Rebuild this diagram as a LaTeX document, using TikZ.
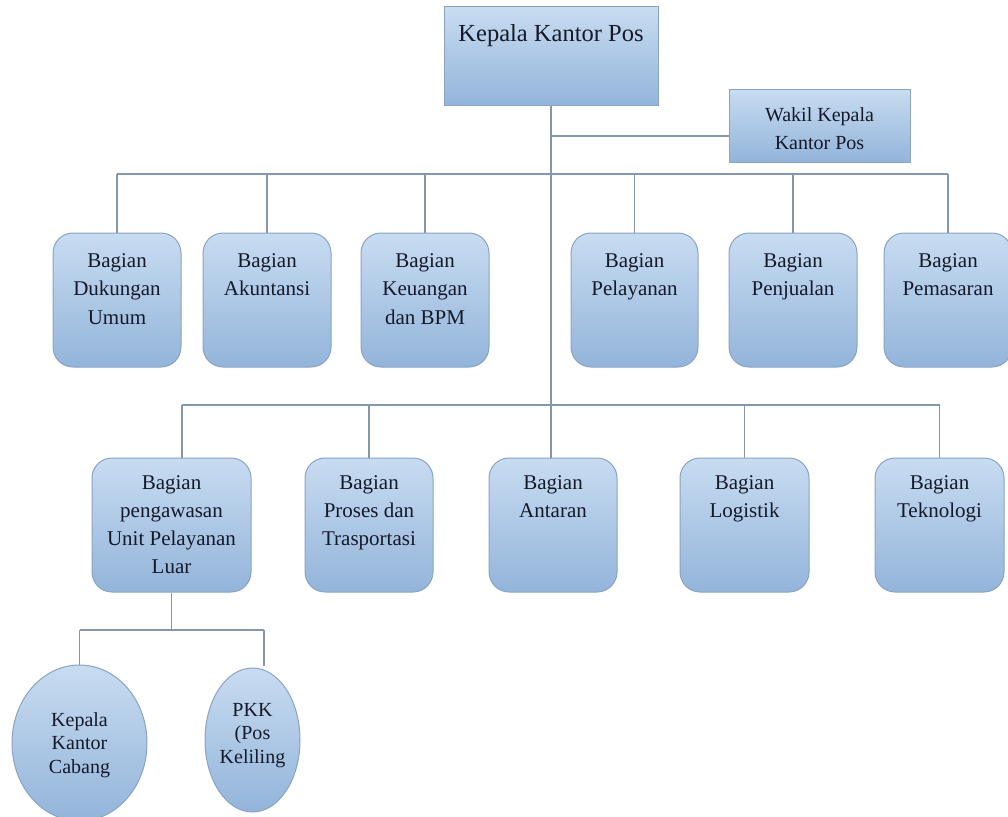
\documentclass[tikz,border=0pt]{standalone}
\usepackage{fontspec}
\setmainfont{Liberation Serif}
\usetikzlibrary{shapes.geometric}
\definecolor{boxtop}{HTML}{C8DCF1}
\definecolor{boxbot}{HTML}{93B4DA}
\definecolor{boxline}{HTML}{8AA3C3}
\definecolor{connc}{HTML}{8497AE}
\definecolor{txt}{HTML}{141A2A}
\tikzset{
  rbox/.style={draw=boxline, line width=1pt, rounded corners=20pt, top color=boxtop, bottom color=boxbot, inner sep=0pt, minimum height=134pt},
  sbox/.style={draw=boxline, line width=1pt, top color=boxtop, bottom color=boxbot, inner sep=0pt},
  ebox/.style={draw=boxline, line width=1pt, ellipse, top color=boxtop, bottom color=boxbot, inner sep=0pt},
  lbl/.style={font=\fontsize{21}{28.5}\selectfont, text=txt, align=center, inner sep=0pt, anchor=north},
  elbl/.style={font=\fontsize{20}{23.5}\selectfont, text=txt, align=center, inner sep=0pt, anchor=north},
  conn/.style={draw=connc, line width=1.1pt}
}
\begin{document}
\begin{tikzpicture}[x=1pt,y=-1pt]
\path[use as bounding box, fill=white] (0,0) rectangle (1008,816);
\begin{scope}
\clip (0,0) rectangle (1008,816);
% top
\node[sbox, minimum width=214pt, minimum height=98pt] (top) at (551,56) {};
\node[lbl, font=\fontsize{24.5}{30}\selectfont] (topt) at ([yshift=-18.3pt]top.north) {Kepala Kantor Pos};
\node[sbox, minimum width=181pt, minimum height=73pt] (wakil) at (819.5,125.5) {};
\node[lbl, font=\fontsize{20}{28}\selectfont] (wakilt) at ([yshift=-19.3pt]wakil.north) {Wakil Kepala\\Kantor Pos};
% row 1
\node[rbox, minimum width=128pt] (b1) at (117,300) {};
\node[rbox, minimum width=128pt] (b2) at (267,300) {};
\node[rbox, minimum width=128pt] (b3) at (425,300) {};
\node[rbox, minimum width=127pt] (b4) at (634.5,300) {};
\node[rbox, minimum width=128pt] (b5) at (793,300) {};
\node[rbox, minimum width=128pt] (b6) at (948,300) {};
\node[lbl] (t1) at ([yshift=-20.7pt]b1.north) {Bagian\\Dukungan\\Umum};
\node[lbl] (t2) at ([yshift=-20.7pt]b2.north) {Bagian\\Akuntansi};
\node[lbl] (t3) at ([yshift=-20.7pt]b3.north) {Bagian\\Keuangan\\dan BPM};
\node[lbl] (t4) at ([yshift=-20.7pt]b4.north) {Bagian\\Pelayanan};
\node[lbl] (t5) at ([yshift=-20.7pt]b5.north) {Bagian\\Penjualan};
\node[lbl] (t6) at ([yshift=-20.7pt]b6.north) {Bagian\\Pemasaran};
% row 2
\node[rbox, minimum width=159pt] (b7) at (171.5,525) {};
\node[rbox, minimum width=128pt] (b8) at (369,525) {};
\node[rbox, minimum width=128pt] (b9) at (553,525) {};
\node[rbox, minimum width=129pt] (b10) at (744.5,525) {};
\node[rbox, minimum width=129pt] (b11) at (939.5,525) {};
\node[lbl, font=\fontsize{21}{28}\selectfont] (t7) at ([yshift=-17.5pt]b7.north) {Bagian\\pengawasan\\Unit Pelayanan\\Luar};
\node[lbl, font=\fontsize{21}{28}\selectfont] (t8) at ([yshift=-17.5pt]b8.north) {Bagian\\Proses dan\\Trasportasi};
\node[lbl, font=\fontsize{21}{28}\selectfont] (t9) at ([yshift=-17.5pt]b9.north) {Bagian\\Antaran};
\node[lbl, font=\fontsize{21}{28}\selectfont] (t10) at ([yshift=-17.5pt]b10.north) {Bagian\\Logistik};
\node[lbl, font=\fontsize{21}{28}\selectfont] (t11) at ([yshift=-17.5pt]b11.north) {Bagian\\Teknologi};
% ellipses
\node[ebox, minimum width=135pt, minimum height=156pt] (e1) at (79.5,743) {};
\node[ebox, minimum width=95pt, minimum height=144pt] (e2) at (252.5,740) {};
\node[elbl] (et1) at (79.5,712) {Kepala\\Kantor\\Cabang};
\node[elbl] (et2) at (252.5,703) {PKK\\(Pos\\Keliling};
% connectors
\coordinate (wk) at (0,136);
\coordinate (r1) at (0,174);
\coordinate (r2) at (0,405);
\coordinate (r3) at (0,630);
\coordinate (b7top) at ([xshift=10.5pt]b7.north);
\coordinate (e2top) at ([xshift=11.5pt,yshift=2pt]e2.north);
\draw[conn] (top.south) -- (top.south |- b9.north);
\draw[conn] (top.south |- wk) -- (wakil.west |- wk);
\draw[conn] (b1.north |- r1) -- (b6.north |- r1);
\foreach \n in {b1,b2,b3,b4,b5,b6} \draw[conn] (\n.north |- r1) -- (\n.north);
\draw[conn] (b7top |- r2) -- (b11.north |- r2);
\draw[conn] (b7top |- r2) -- (b7top);
\foreach \n in {b8,b10,b11} \draw[conn] (\n.north |- r2) -- (\n.north);
\draw[conn] (b7.south) -- (b7.south |- r3);
\draw[conn] (e1.north |- r3) -- (e2top |- r3);
\draw[conn] (e1.north |- r3) -- (e1.north);
\draw[conn] (e2top |- r3) -- (e2top);
\end{scope}
\end{tikzpicture}
\end{document}
